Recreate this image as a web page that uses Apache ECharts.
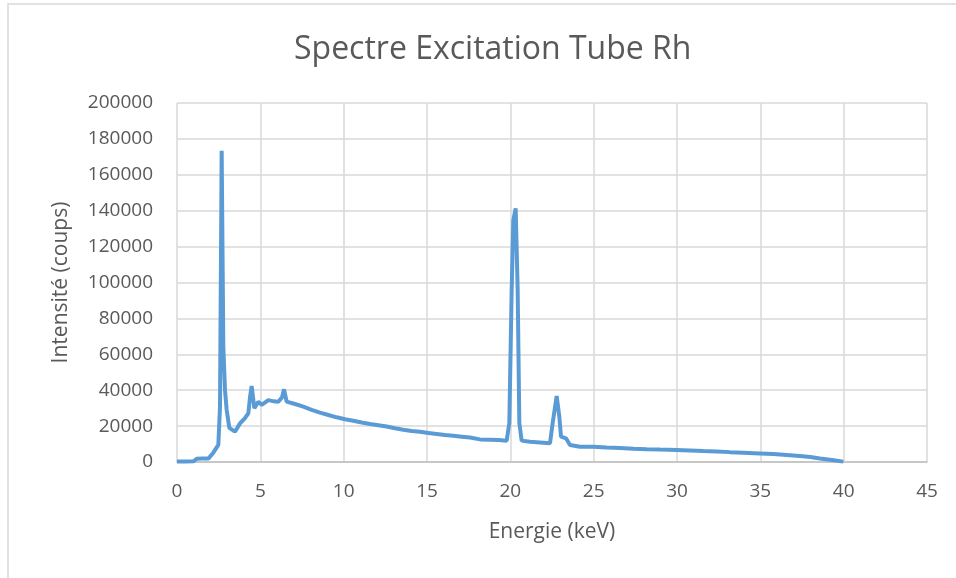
<!DOCTYPE html>
<html>
<head>
<meta charset="utf-8">
<script src="https://cdn.jsdelivr.net/npm/echarts@6/dist/echarts.min.js"></script>
<style>
  html, body { margin: 0; padding: 0; background: #fff; }
  #main { width: 956px; height: 578px; }
</style>
</head>
<body>
<div id="main"></div>
<script>
var energy = [0, 0.5, 1.0, 1.18, 1.5, 1.88, 2.18, 2.48, 2.58, 2.68, 2.78, 2.88, 2.98, 3.14, 3.48, 3.78, 4.08, 4.28, 4.38, 4.48, 4.64, 4.88, 5.08, 5.48, 5.8, 6.08, 6.3, 6.42, 6.58, 7.08, 7.58, 8.08, 8.58, 9.08, 9.58, 10.08, 10.58, 11.08, 11.58, 12.08, 12.58, 13.08, 13.58, 14.08, 14.58, 15.08, 15.58, 16.08, 16.58, 17.08, 17.58, 18.18, 18.78, 19.3, 19.78, 19.94, 20.08, 20.18, 20.32, 20.44, 20.54, 20.68, 21.18, 21.78, 22.38, 22.54, 22.78, 22.94, 23.04, 23.34, 23.58, 24.18, 24.98, 25.78, 26.58, 27.38, 28.18, 28.98, 29.98, 30.78, 31.58, 32.38, 33.18, 33.98, 34.98, 35.78, 36.58, 37.38, 38.0, 38.58, 39.3, 39.98];
var counts = [300, 300, 400, 1800, 1900, 1900, 5200, 9500, 30800, 173400, 64200, 40000, 29000, 19000, 16900, 21500, 24500, 27100, 36000, 42300, 29900, 33600, 31800, 34500, 33800, 33600, 36000, 40500, 33600, 32300, 30800, 29000, 27500, 26200, 24900, 23800, 23000, 22000, 21200, 20500, 19800, 18800, 18000, 17300, 16800, 16200, 15600, 15000, 14600, 14100, 13600, 12600, 12400, 12200, 11900, 21700, 95800, 134800, 141300, 95800, 21700, 11900, 11300, 10900, 10400, 21700, 36800, 25200, 14100, 13200, 9500, 8500, 8500, 8100, 7800, 7400, 7100, 6900, 6700, 6400, 6100, 5900, 5500, 5200, 4800, 4400, 3900, 3300, 2800, 2000, 1100, 200];

var yTicks = [0, 20000, 40000, 60000, 80000, 100000, 120000, 140000, 160000, 180000, 200000];
var xTicks = [0, 5, 10, 15, 20, 25, 30, 35, 40, 45];

var pts = energy.map(function (e, i) { return [e, counts[i]]; });

var chart = echarts.init(document.getElementById('main'));
chart.setOption({
  animation: false,
  textStyle: { fontFamily: 'Open Sans' },
  graphic: [{
    type: 'rect',
    shape: { x: 8, y: 4, width: 960, height: 590 },
    style: { fill: 'none', stroke: '#d9d9d9', lineWidth: 1.5 },
    silent: true
  }],
  title: {
    text: 'Spectre Excitation Tube Rh',
    left: 289,
    top: 29,
    textStyle: { fontFamily: 'Open Sans', fontSize: 32, fontWeight: 'normal', color: '#595959' }
  },
  grid: { left: 177, right: 29, top: 103, bottom: 116 },
  xAxis: {
    type: 'value',
    min: xTicks[0],
    max: xTicks[xTicks.length - 1],
    interval: 5,
    name: 'Energie (keV)',
    nameLocation: 'middle',
    nameGap: 60,
    nameTextStyle: { fontSize: 21, color: '#595959' },
    axisLine: { show: true, lineStyle: { color: '#bfbfbf', width: 1.5 } },
    axisTick: { show: false },
    axisLabel: { fontSize: 19, color: '#595959', margin: 20 },
    splitLine: { show: true, lineStyle: { color: '#d9d9d9', width: 1.5 } }
  },
  yAxis: {
    type: 'value',
    min: yTicks[0],
    max: yTicks[yTicks.length - 1],
    interval: 20000,
    name: 'Intensité (coups)',
    nameLocation: 'middle',
    nameGap: 105,
    nameTextStyle: { fontSize: 21, color: '#595959' },
    axisLine: { show: false },
    axisTick: { show: false },
    axisLabel: { fontSize: 19, color: '#595959', margin: 24, formatter: function (v) { return String(v); } },
    splitLine: { show: true, lineStyle: { color: '#d9d9d9', width: 1.5 } }
  },
  series: [{
    type: 'line',
    data: pts,
    showSymbol: false,
    lineStyle: { color: '#5b9bd5', width: 4 },
    itemStyle: { color: '#5b9bd5' }
  }]
});
</script>
</body>
</html>
